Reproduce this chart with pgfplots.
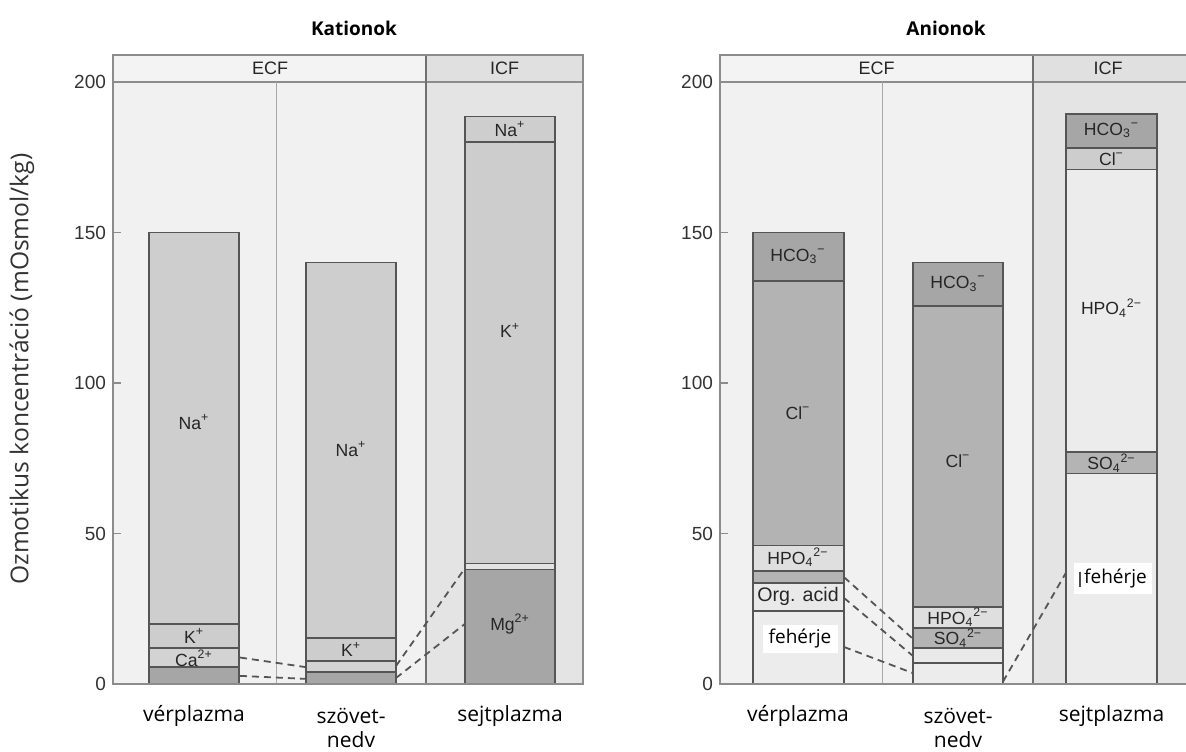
\documentclass[border=0pt]{standalone}
\usepackage{fontspec}
\setmainfont{Open Sans}
\newfontfamily\arialf{Liberation Sans}
\usepackage{pgfplots}
\pgfplotsset{compat=1.18}
\definecolor{framec}{HTML}{8C8C8C}
\definecolor{bard}{HTML}{555555}
\definecolor{ecfbg}{HTML}{F1F1F1}
\definecolor{icfbg}{HTML}{E4E4E4}
\definecolor{hdrE}{HTML}{F3F3F3}
\definecolor{hdrI}{HTML}{E0E0E0}
\definecolor{divc}{HTML}{A8A8A8}
\definecolor{tickc}{HTML}{333333}
\definecolor{mgc}{HTML}{A6A6A6}
\definecolor{cac}{HTML}{D3D3D3}
\definecolor{kc}{HTML}{CDCDCD}
\definecolor{nac}{HTML}{CECECE}
\definecolor{thinc}{HTML}{E3E3E3}
\definecolor{hcoc}{HTML}{A6A6A6}
\definecolor{clc}{HTML}{B3B3B3}
\definecolor{cllc}{HTML}{CDCDCD}
\definecolor{hpoc}{HTML}{DFDFDF}
\definecolor{hpolc}{HTML}{ECECEC}
\definecolor{soc}{HTML}{B4B4B4}
\definecolor{orgc}{HTML}{E9E9E9}
\definecolor{fec}{HTML}{ECECEC}
\newcommand{\seg}[5]{\addplot[fill=#5, draw=bard, line width=0.8pt] coordinates {(#1,#3) (#2,#3) (#2,#4) (#1,#4)} -- cycle;}
\newcommand{\ionl}[3]{#1\textsubscript{#2}\textsuperscript{#3}}
\pgfplotsset{panel/.style={
  scale only axis, width=235pt, height=314.5pt,
  ymin=0, ymax=209, ytick={0,50,100,150,200}, xtick=\empty,
  tick align=inside, ytick pos=left, major tick length=4pt,
  tick style={color=framec, line width=0.6pt},
  axis line style={draw=framec, line width=0.6pt},
  yticklabel style={font=\arialf\fontsize{9.5}{10}\selectfont, text=tickc},
  /pgf/number format/assume math mode=true,
  clip=false, axis on top, no markers,
  axis background/.style={fill=ecfbg}}}
\tikzset{
  lab/.style={font=\arialf\fontsize{8.8}{10}\selectfont, text=black!85, inner sep=0pt},
  hdr/.style={font=\arialf\fontsize{9}{10}\selectfont, text=black!85, inner sep=0pt},
  cat/.style={font=\fontsize{10.5}{12}\selectfont, text=black},
  feh/.style={fill=white, inner sep=0pt, font=\fontsize{9.5}{11}\selectfont},
  dsh/.style={draw=bard, dash pattern=on 3.5pt off 2.5pt, line width=0.9pt}
}
\begin{document}
\begin{tikzpicture}
\useasboundingbox (0,0) rectangle (593pt,375.5pt);
% ---------------- Kationok ----------------
\begin{axis}[panel, at={(56.5pt,33.5pt)}, anchor=south west, xmin=113, xmax=583]
\addplot[fill=icfbg, draw=none] coordinates {(426,0) (583,0) (583,200) (426,200)} -- cycle;
\addplot[fill=hdrE, draw=framec, line width=0.6pt] coordinates {(113,200) (426,200) (426,209) (113,209)} -- cycle;
\addplot[fill=hdrI, draw=framec, line width=0.6pt] coordinates {(426,200) (583,200) (583,209) (426,209)} -- cycle;
\addplot[draw=divc, line width=0.5pt] coordinates {(276,0) (276,200)};
\addplot[draw=framec!80!black, line width=0.6pt] coordinates {(426,0) (426,209)};
% vérplazma
\seg{149}{239}{0}{5.6}{mgc}
\seg{149}{239}{5.6}{12}{cac}
\seg{149}{239}{12}{20}{kc}
\seg{149}{239}{20}{150}{nac}
% szövetnedv
\seg{306}{396}{0}{4}{mgc}
\seg{306}{396}{4}{7.6}{cac}
\seg{306}{396}{7.6}{15.3}{kc}
\seg{306}{396}{15.3}{140}{nac}
% sejtplazma
\seg{465}{555}{0}{38}{mgc}
\seg{465}{555}{38}{40}{thinc}
\seg{465}{555}{40}{180}{kc}
\seg{465}{555}{180}{188.5}{nac}
% dashed
\addplot[dsh] coordinates {(240,8.8) (306,5.6)};
\addplot[dsh] coordinates {(240,2.7) (306,1.7)};
\addplot[dsh] coordinates {(396,6) (465,38.5)};
\addplot[dsh] coordinates {(396,2) (465,20)};
% labels
\node[hdr] at (axis cs:270,204.5) {ECF};
\node[hdr] at (axis cs:504.5,204.5) {ICF};
\node[lab] at (axis cs:194,87) {Na\textsuperscript{+}};
\node[lab] at (axis cs:194,16) {K\textsuperscript{+}};
\node[lab] at (axis cs:194,8.6) {Ca\textsuperscript{2+}};
\node[lab] at (axis cs:351,78) {Na\textsuperscript{+}};
\node[lab] at (axis cs:351,11.5) {K\textsuperscript{+}};
\node[lab] at (axis cs:510,184.3) {Na\textsuperscript{+}};
\node[lab] at (axis cs:510,117.5) {K\textsuperscript{+}};
\node[lab] at (axis cs:510,20) {Mg\textsuperscript{2+}};
\node[cat] at (axis cs:194,-10.6) {vérplazma};
\node[cat] at (axis cs:351,-10.6) {szövet-};
\node[cat] at (axis cs:351,-18.6) {nedv};
\node[cat] at (axis cs:510,-10.6) {sejtplazma};
\end{axis}
% ---------------- Anionok ----------------
\begin{axis}[panel, at={(360pt,33.5pt)}, anchor=south west, xmin=720, xmax=1190]
\addplot[fill=icfbg, draw=none] coordinates {(1033,0) (1190,0) (1190,200) (1033,200)} -- cycle;
\addplot[fill=hdrE, draw=framec, line width=0.6pt] coordinates {(720,200) (1033,200) (1033,209) (720,209)} -- cycle;
\addplot[fill=hdrI, draw=framec, line width=0.6pt] coordinates {(1033,200) (1190,200) (1190,209) (1033,209)} -- cycle;
\addplot[draw=divc, line width=0.5pt] coordinates {(882,0) (882,200)};
\addplot[draw=framec!80!black, line width=0.6pt] coordinates {(1033,0) (1033,209)};
% vérplazma
\seg{753}{844}{0}{24.3}{fec}
\seg{753}{844}{24.3}{33.5}{orgc}
\seg{753}{844}{33.5}{37.5}{soc}
\seg{753}{844}{37.5}{46}{hpoc}
\seg{753}{844}{46}{134}{clc}
\seg{753}{844}{134}{150}{hcoc}
% szövetnedv
\seg{913}{1003}{0}{7}{fec}
\seg{913}{1003}{7}{12}{orgc}
\seg{913}{1003}{12}{18.6}{soc}
\seg{913}{1003}{18.6}{25.6}{hpoc}
\seg{913}{1003}{25.6}{125.6}{clc}
\seg{913}{1003}{125.6}{140}{hcoc}
% sejtplazma
\seg{1066}{1157}{0}{70}{fec}
\seg{1066}{1157}{70}{77}{soc}
\seg{1066}{1157}{77}{171}{hpolc}
\seg{1066}{1157}{171}{178}{cllc}
\seg{1066}{1157}{178}{189.4}{hcoc}
% dashed
\addplot[dsh] coordinates {(844,35.5) (913,15)};
\addplot[dsh] coordinates {(844,28.6) (913,9.3)};
\addplot[dsh] coordinates {(844,12.3) (913,3.6)};
\addplot[dsh] coordinates {(1003,0.8) (1066,37)};
% labels
\node[hdr] at (axis cs:876.5,204.5) {ECF};
\node[hdr] at (axis cs:1108,204.5) {ICF};
\node[lab] at (axis cs:798,142) {\ionl{HCO}{3}{−}};
\node[lab] at (axis cs:798,90) {Cl\textsuperscript{−}};
\node[lab] at (axis cs:798,42) {\ionl{HPO}{4}{2−}};
\node[lab, font=\arialf\fontsize{9.8}{11}\selectfont] at (axis cs:798,29) {Org. acid};
\node[feh, minimum width=37.5pt, minimum height=14pt] at (axis cs:800,15) {fehérje};
\node[lab] at (axis cs:958,133) {\ionl{HCO}{3}{−}};
\node[lab] at (axis cs:958,74) {Cl\textsuperscript{−}};
\node[lab] at (axis cs:958,22.2) {\ionl{HPO}{4}{2−}};
\node[lab] at (axis cs:958,15.3) {\ionl{SO}{4}{2−}};
\node[lab] at (axis cs:1111.5,184) {\ionl{HCO}{3}{−}};
\node[lab] at (axis cs:1111.5,174.5) {Cl\textsuperscript{−}};
\node[lab] at (axis cs:1111.5,125) {\ionl{HPO}{4}{2−}};
\node[lab] at (axis cs:1111.5,73.5) {\ionl{SO}{4}{2−}};
\node[feh, minimum width=39pt, minimum height=15.5pt] at (axis cs:1113,35) {{\color{black!70}\rule[-1.5pt]{0.9pt}{7.5pt}}\,fehérje};
\node[cat] at (axis cs:798,-10.6) {vérplazma};
\node[cat] at (axis cs:958,-10.6) {szövet-};
\node[cat] at (axis cs:958,-18.6) {nedv};
\node[cat] at (axis cs:1111.5,-10.6) {sejtplazma};
\end{axis}
% titles and y label
\node[font=\bfseries\fontsize{9.5}{11}\selectfont] at (177pt,361.5pt) {Kationok};
\node[font=\bfseries\fontsize{9.5}{11}\selectfont] at (473pt,361.5pt) {Anionok};
\node[rotate=90, font=\fontsize{12.3}{14}\selectfont, text=tickc] at (11pt,191pt) {Ozmotikus koncentráció (mOsmol/kg)};
\end{tikzpicture}
\end{document}
